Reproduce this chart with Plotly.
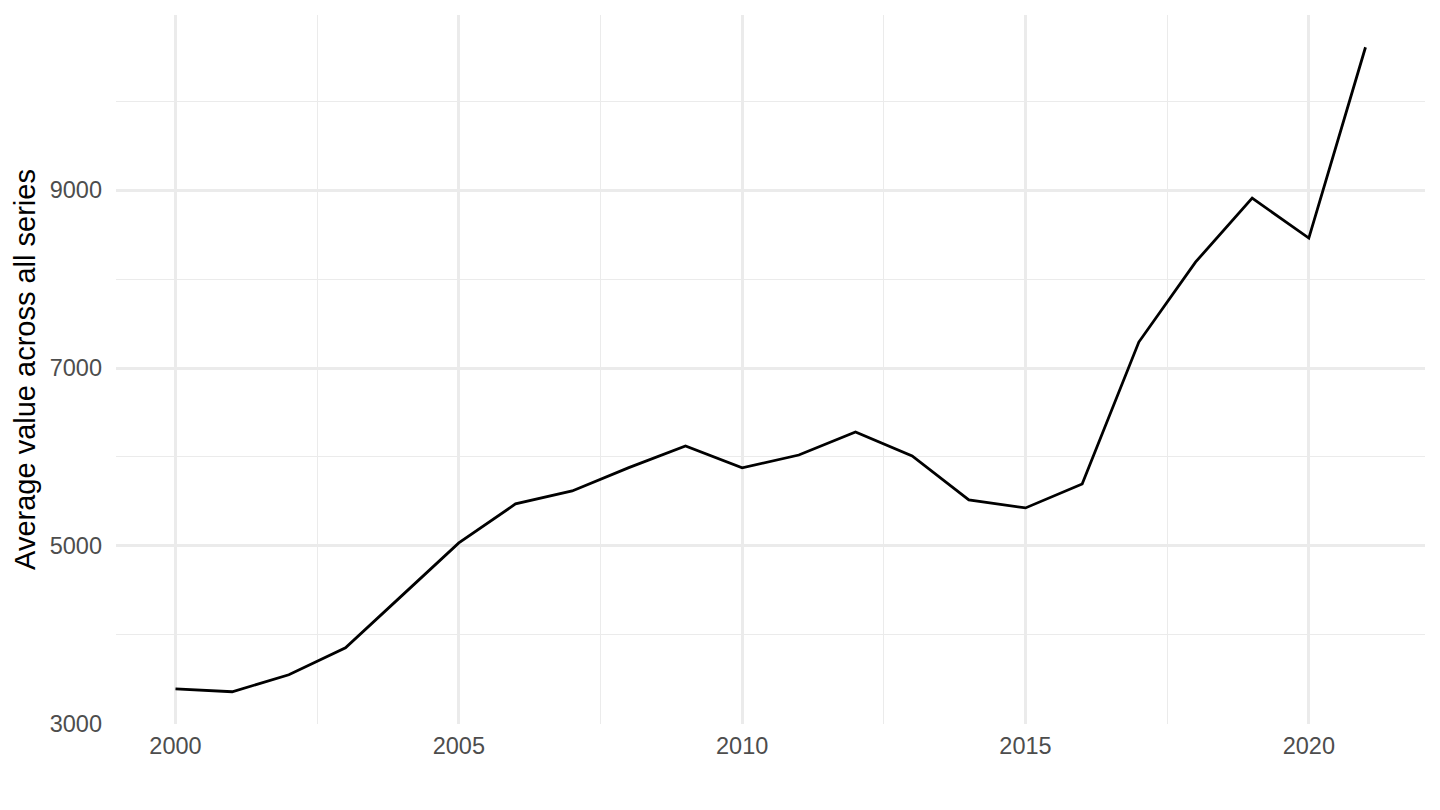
import plotly.graph_objects as go

# -----------------------------
# Data
# -----------------------------
years = list(range(2000, 2022))
avg_value = [
    3393, 3360, 3551, 3854, 4444, 5034, 5472, 5618, 5880, 6124, 5878,
    6022, 6281, 6011, 5517, 5427, 5697, 7292, 8191, 8910, 8461, 10607,
]

y_ticks = [3000, 5000, 7000, 9000]
x_ticks = [2000, 2005, 2010, 2015, 2020]

grid_col = "#EBEBEB"
tick_col = "#4D4D4D"

fig = go.Figure()
fig.add_trace(
    go.Scatter(
        x=years,
        y=avg_value,
        mode="lines",
        line=dict(color="black", width=2.8),
        showlegend=False,
    )
)

# ggplot-like 5% expansion on both axes
x_pad = (max(years) - min(years)) * 0.05
y_pad = (max(avg_value) - min(avg_value)) * 0.05

# page body has an 8px margin, so the figure is 16px smaller than the window
fig.update_layout(
    width=1424,
    height=794,
    paper_bgcolor="white",
    plot_bgcolor="white",
    margin=dict(l=108, r=7, t=7, b=78),
    font=dict(family="Liberation Sans, Arial, sans-serif", color=tick_col),
    xaxis=dict(
        range=[min(years) - x_pad, max(years) + x_pad],
        tickvals=x_ticks,
        ticktext=[str(v) for v in x_ticks],
        tickfont=dict(size=23.5, color=tick_col),
        showgrid=True,
        gridcolor=grid_col,
        gridwidth=2.7,
        minor=dict(dtick=2.5, tick0=2000, showgrid=True, gridcolor=grid_col, gridwidth=1.35),
        zeroline=False,
        showline=False,
        ticks="",
        ticklabelstandoff=5,
        automargin=False,
    ),
    yaxis=dict(
        range=[min(avg_value) - y_pad, max(avg_value) + y_pad],
        tickvals=y_ticks,
        ticktext=[str(v) for v in y_ticks],
        tickfont=dict(size=23.5, color=tick_col),
        showgrid=True,
        gridcolor=grid_col,
        gridwidth=2.7,
        minor=dict(dtick=1000, tick0=0, showgrid=True, gridcolor=grid_col, gridwidth=1.35),
        zeroline=False,
        showline=False,
        ticks="",
        ticklabelstandoff=13,
        automargin=False,
        title=dict(
            text="Average value across all series",
            font=dict(size=29, color="black"),
            standoff=5,
        ),
    ),
)

fig.write_html("out.html")
